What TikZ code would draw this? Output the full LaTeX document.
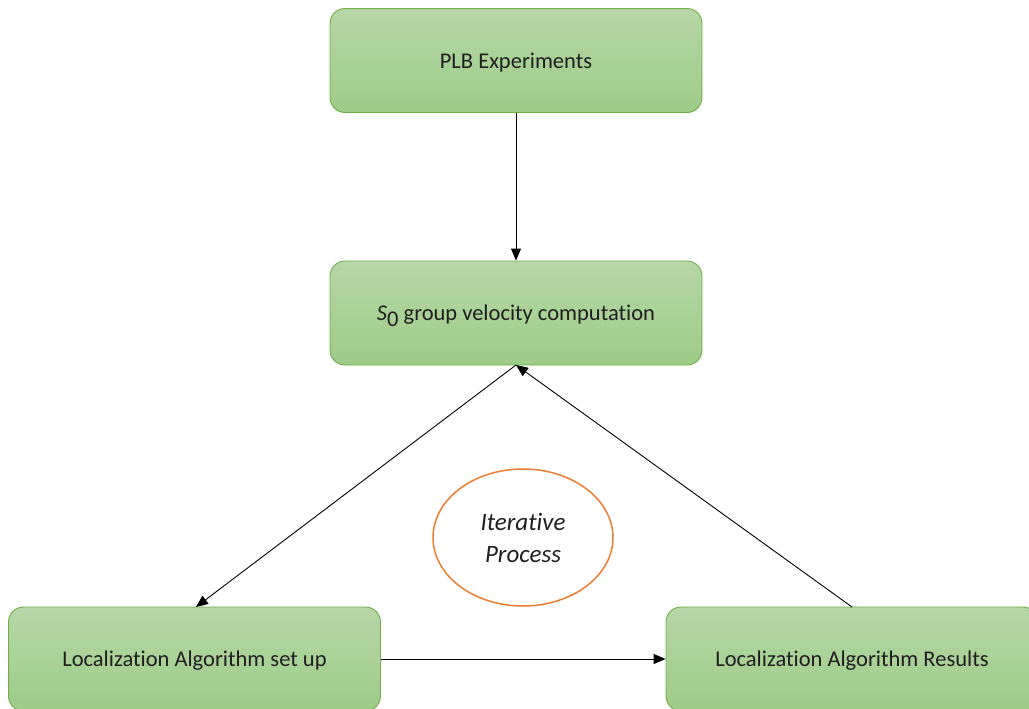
\documentclass[tikz,border=0pt]{standalone}
\usepackage{fontspec}
\setmainfont[Ligatures=NoCommon,RawFeature={-liga;-dlig;-clig}]{Carlito}
\usetikzlibrary{arrows.meta,shapes.geometric}
\definecolor{gtop}{HTML}{B6D7A8}
\definecolor{gbot}{HTML}{9DCB87}
\definecolor{gedge}{HTML}{70AD47}
\definecolor{orng}{HTML}{ED7D31}
\tikzset{
  box/.style={draw=gedge, line width=0.9pt, rounded corners=15pt, top color=gtop, bottom color=gbot,
    minimum width=372pt, minimum height=104pt, inner sep=0pt, text depth=0pt,
    font=\fontsize{22.5}{27}\selectfont, text=black!88},
  conn/.style={line width=0.9pt, -{Triangle[length=12pt,width=10pt]}}
}
\begin{document}
\begin{tikzpicture}[x=1pt,y=-1pt]
\useasboundingbox (0,0) rectangle (1029,709);
\clip (0,0) rectangle (1029,709);
\fill[white] (0,0) rectangle (1029,709);
\node[box] (plb) at (516,60.5) {PLB Experiments};
\node[box] (s0) at (516,313) {{\itshape S}\raisebox{-0.25em}{0} group velocity computation};
\node[box] (setup) at (194.5,659) {Localizat\kern0pt ion Algorithm set up};
\node[box] (res) at (852,659) {Localizat\kern0pt ion Algorithm Results};
\node[draw=orng, line width=1.5pt, ellipse, minimum width=180pt, minimum height=137pt, inner sep=0pt,
  align=center, text=black!88, font=\fontsize{25}{32}\selectfont\itshape] (iter) at (523,537.5) {Iterat\kern0pt ive\\Process};
\coordinate (s0b) at (516,365);
\coordinate (setupt) at (196,607);
\coordinate (rest) at (852,607);
\draw[conn] (plb.south) -- (s0.north);
\draw[conn] (s0b) -- (setupt);
\draw[conn] (rest) -- (s0b);
\draw[conn] (setup.east) -- (res.west);
\end{tikzpicture}
\end{document}
